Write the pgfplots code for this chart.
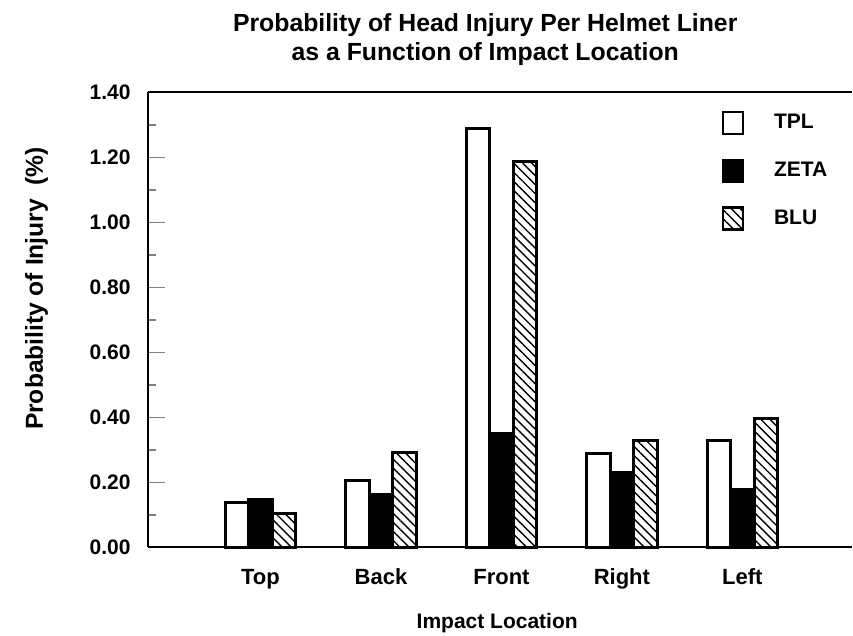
\documentclass[border=0pt]{standalone}
\usepackage{pgfplots}
\pgfplotsset{compat=1.18}
\usepackage{fontspec}
\setmainfont{Liberation Sans}
\usetikzlibrary{patterns.meta}
\begin{document}
\fontsize{10.5}{13}\selectfont\bfseries
\begin{tikzpicture}
\begin{axis}[
  scale only axis,
  width=352pt, height=227.5pt,
  xmin=0.066, xmax=5.91,
  ymin=0, ymax=1.4,
  axis lines=left,
  axis line style={-, line width=1pt},
  ybar=0pt, bar width=11.75pt,
  xtick={1,2,3,4,5},
  xticklabels={Top,Back,Front,Right,Left},
  xtick style={draw=none},
  xticklabel style={anchor=base, yshift=-18.5pt, font=\fontsize{11}{13}\selectfont\bfseries},
  ytick={0,0.2,0.4,0.6,0.8,1.0,1.2,1.4},
  minor y tick num=1,
  tick align=inside,
  major tick length=8.5pt,
  minor tick length=4pt,
  ytick style={line width=0.6pt},
  yticklabel style={xshift=-5pt, /pgf/number format/.cd, fixed, fixed zerofill, precision=2, assume math mode=true},
  xlabel={Impact Location},
  every axis x label/.style={at={(rel axis cs:0.496,0)}, anchor=base, yshift=-40.5pt},
  ylabel={Probability of Injury\ \ (\%)},
  every axis y label/.style={at={(rel axis cs:0,0.242)}, rotate=90, anchor=base west, yshift=52.5pt, font=\fontsize{12.3}{14}\selectfont\bfseries},
  title={Probability of Head Injury Per Helmet Liner\\as a Function of Impact Location},
  every axis title/.style={at={(rel axis cs:0.479,1)}, anchor=base, align=center, yshift=16pt, font=\fontsize{12.4}{14.6}\selectfont\bfseries},
  legend image code/.code={\draw[#1, line width=1.3pt] (0pt,-5.5pt) rectangle (10pt,5.5pt); \path[draw=none,fill=none] (0pt,0pt) -- (25.5pt,0pt);},
  legend style={draw=none, fill=none, inner sep=0pt, outer sep=0pt, at={(rel axis cs:0.815,0.96)}, anchor=north west, row sep=11.65pt, nodes={inner sep=0pt, anchor=west}},
  legend cell align=left,
  clip=false,
]
\addplot[draw=black, line width=1.5pt, fill=white] coordinates {(1,0.137) (2,0.205) (3,1.289) (4,0.289) (5,0.329)};
\addplot[draw=black, line width=1.5pt, fill=black] coordinates {(1,0.148) (2,0.163) (3,0.351) (4,0.232) (5,0.178)};
\addplot[draw=black, line width=1.5pt, pattern={Lines[angle=-45,distance=3.2pt,line width=0.7pt]}] coordinates {(1,0.105) (2,0.291) (3,1.188) (4,0.328) (5,0.397)};
\legend{TPL,ZETA,BLU}
\draw[line width=1pt] (rel axis cs:0,1) -- (rel axis cs:1,1);
\end{axis}
\pgfresetboundingbox
\path (-74pt,-44.25pt) rectangle (352.5pt,273.75pt);
\end{tikzpicture}
\end{document}
